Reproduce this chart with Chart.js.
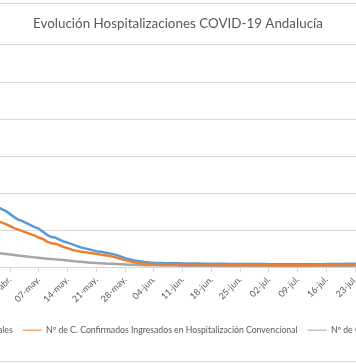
<!DOCTYPE html>
<html><head><meta charset="utf-8">
<script src="https://cdn.jsdelivr.net/npm/chart.js@4/dist/chart.umd.min.js"></script>
<style>
html,body{margin:0;padding:0;background:#fff;overflow:hidden;width:356px;height:364px;}
#box{position:absolute;left:-173px;top:3px;width:700px;height:357px;border:1px solid #d9d9d9;background:#fff;}
</style></head>
<body>
<div id="box"><canvas id="c"></canvas></div>
<script>
const titleText = 'Evolución Hospitalizaciones COVID-19 Andalucía';
const seriesNames = [
  'Nº de C. Hospitalizados Totales',
  'Nº de C. Confirmados Ingresados en Hospitalización Convencional',
  'Nº de C. Confirmados Ingresados en UCI'
];
const categories = [
  '27-abr.','28-abr.','29-abr.','30-abr.',
  '01-may.','02-may.','03-may.','04-may.','05-may.','06-may.','07-may.','08-may.','09-may.','10-may.',
  '11-may.','12-may.','13-may.','14-may.','15-may.','16-may.','17-may.','18-may.','19-may.','20-may.',
  '21-may.','22-may.','23-may.','24-may.','25-may.','26-may.','27-may.','28-may.','29-may.','30-may.','31-may.',
  '01-jun.','02-jun.','03-jun.','04-jun.','05-jun.','06-jun.','07-jun.','08-jun.','09-jun.','10-jun.',
  '11-jun.','12-jun.','13-jun.','14-jun.','15-jun.','16-jun.','17-jun.','18-jun.','19-jun.','20-jun.',
  '21-jun.','22-jun.','23-jun.','24-jun.','25-jun.','26-jun.','27-jun.','28-jun.','29-jun.','30-jun.',
  '01-jul.','02-jul.','03-jul.','04-jul.','05-jul.','06-jul.','07-jul.','08-jul.','09-jul.','10-jul.',
  '11-jul.','12-jul.','13-jul.','14-jul.','15-jul.','16-jul.','17-jul.','18-jul.','19-jul.','20-jul.',
  '21-jul.','22-jul.','23-jul.','24-jul.','25-jul.'
];
const tickLabels = ['30-abr.','07-may.','14-may.','21-may.','28-may.','04-jun.','11-jun.','18-jun.','25-jun.','02-jul.','09-jul.','16-jul.','23-jul.'];
const totalHosp = [
  811,784,757,716,676,642,621,595,567,540,
  520,478,437,408,399,372,347,331,311,291,
  270,257,243,230,216,207,199,189,176,162,
  142,122,108,95,85,76,68,62,58,56,
  55,54,53,52,51,50,50,49,48,48,
  47,47,46,46,45,45,44,44,43,43,
  43,42,42,41,41,41,40,40,40,39,
  39,39,38,38,38,38,39,39,40,40,
  41,41,42,43,44,45,46,47,49,51
];
const convHosp = [
  621,601,581,554,527,507,486,466,446,426,
  400,380,345,324,317,297,272,257,236,223,
  213,205,196,189,182,169,162,155,142,128,
  108,95,81,68,58,51,46,43,40,38,
  37,36,35,35,34,34,33,33,32,32,
  32,31,31,31,30,30,30,29,29,29,
  29,28,28,28,28,28,27,27,27,27,
  27,26,26,26,26,27,27,27,28,28,
  29,29,30,31,32,33,34,35,37,39
];
const uciHosp = [
  192,185,178,172,165,158,151,145,138,132,
  126,120,115,109,105,100,95,89,84,78,
  73,68,64,59,55,53,50,47,45,42,
  39,36,34,32,30,28,27,26,25,24,
  23,22,22,21,21,20,20,19,19,18,
  18,18,17,17,17,16,16,16,16,15,
  15,15,15,14,14,14,14,14,13,13,
  13,13,13,13,12,12,12,12,12,12,
  12,12,12,12,12,12,12,12,12,12
];
const yMax = 3000, yStep = 500;

const TXT = '#595959', GRID = '#d9d9d9';
const FONT = 'Lato';

new Chart(document.getElementById('c'), {
  type: 'line',
  data: {
    labels: categories,
    datasets: [
      {label: seriesNames[0], data: totalHosp, borderColor: '#5b9bd5', backgroundColor: '#5b9bd5', order: 2},
      {label: seriesNames[1], data: convHosp, borderColor: '#ed7d31', backgroundColor: '#ed7d31', order: 1},
      {label: seriesNames[2], data: uciHosp, borderColor: '#a5a5a5', backgroundColor: '#a5a5a5', order: 3}
    ]
  },
  options: {
    responsive: true,
    maintainAspectRatio: false,
    animation: false,
    devicePixelRatio: 1,
    layout: {padding: {top: 0, bottom: 16.5, left: 0, right: 0}},
    elements: {
      line: {borderWidth: 2.5, tension: 0, borderJoinStyle: 'round', borderCapStyle: 'round'},
      point: {radius: 0, hoverRadius: 0}
    },
    plugins: {
      title: {
        display: true, text: titleText, color: TXT,
        font: {family: FONT, size: 13.4, weight: 'normal'},
        padding: {top: 12, bottom: 12.9}
      },
      legend: {
        display: true, position: 'bottom',
        labels: {
          color: TXT, font: {family: FONT, size: 8.7},
          usePointStyle: true, pointStyle: 'line', pointStyleWidth: 19,
          padding: 10,
          sort: (a, b) => a.datasetIndex - b.datasetIndex
        }
      },
      tooltip: {enabled: false}
    },
    scales: {
      x: {
        type: 'category',
        offset: false,
        grid: {
          display: true, drawOnChartArea: false, drawTicks: true, tickLength: 5,
          color: ctx => (ctx.tick && tickLabels.includes(categories[ctx.index])) ? GRID : 'rgba(0,0,0,0)'
        },
        border: {display: true, color: GRID, width: 1},
        ticks: {
          autoSkip: false, maxRotation: 45, minRotation: 45, padding: 2,
          color: TXT, font: {family: FONT, size: 9},
          callback: (v, i) => tickLabels.includes(categories[i]) ? categories[i] : ''
        },
        afterFit: s => { s.height = 48.65; }
      },
      y: {
        type: 'linear', position: 'left', min: 0, max: yMax,
        grid: {color: GRID, drawTicks: false, lineWidth: 1},
        border: {display: false},
        ticks: {stepSize: yStep, color: TXT, font: {family: FONT, size: 9}, padding: 8},
        afterFit: s => { s.width = 169.7; }
      },
      y2: {
        type: 'linear', position: 'right', display: true,
        grid: {display: false}, border: {display: false},
        ticks: {display: false},
        afterFit: s => { s.width = 164.5; }
      }
    }
  }
});
</script>
</body></html>
